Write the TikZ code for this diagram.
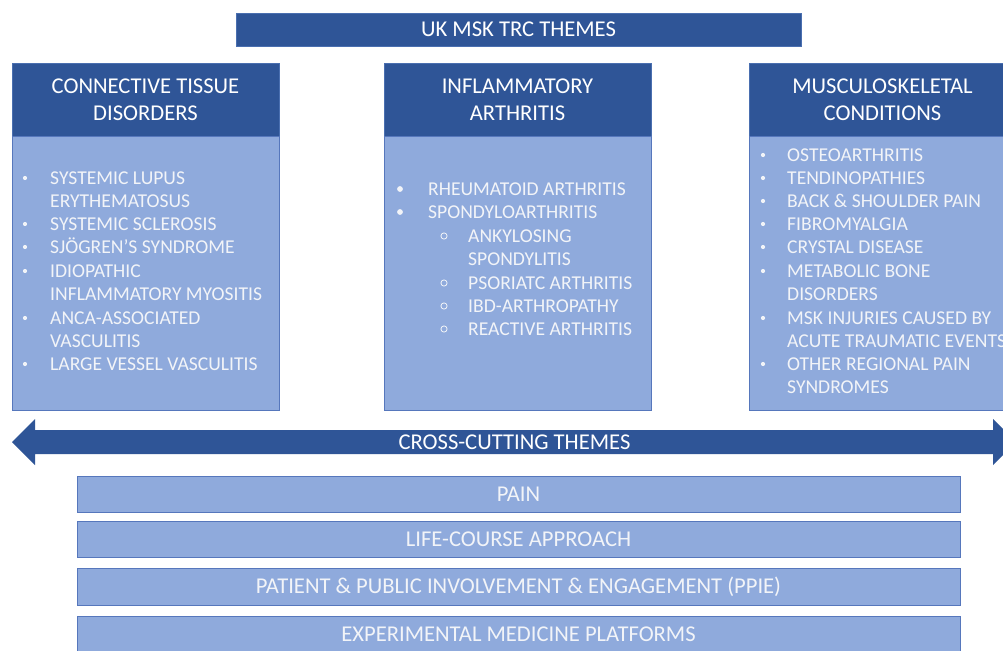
\documentclass[tikz,border=0pt]{standalone}
\usepackage{fontspec}
\setmainfont{Carlito}
\definecolor{dk}{HTML}{2F5597}
\definecolor{dkb}{HTML}{4A6FB0}
\definecolor{lt}{HTML}{8FAADC}
\definecolor{ltb}{HTML}{5677BC}
\definecolor{tx}{HTML}{F2F4F8}
\begin{document}
\begin{tikzpicture}[x=1pt,y=-1pt,
  dkbox/.style={fill=dk, draw=dkb, line width=0.8pt, inner sep=0pt},
  ltbox/.style={fill=lt, draw=ltb, line width=1pt, inner sep=0pt},
  hdr/.style={text=white, font=\fontsize{22.6}{27}\selectfont, align=center},
  bartext/.style={text=tx, font=\fontsize{22.6}{27}\selectfont},
  item/.style={anchor=west, inner sep=0pt, text=tx, font=\fontsize{19.6}{23}\selectfont, text height=12.4pt, text depth=0pt},
  sdot/.style={fill=tx},
  ring/.style={draw=tx, line width=0.8pt}]
\useasboundingbox (0,0) rectangle (1003,650);
\clip (0,0) rectangle (1003,650);
\fill[white] (0,0) rectangle (1003,650);

% title bar
\node[dkbox, hdr, minimum width=565, minimum height=33] (title) at (518.5,29.5) {UK MSK TRC THEMES};

% column headers
\node[dkbox, hdr, minimum width=267, minimum height=73] (h1) at (145.5,99.5) {CONNECTIVE TISSUE\\DISORDERS};
\node[dkbox, hdr, minimum width=267, minimum height=73] (h2) at (517.5,99.5) {INFLAMMATORY\\ARTHRITIS};
\node[dkbox, hdr, minimum width=267, minimum height=73] (h3) at (882.5,99.5) {MUSCULOSKELETAL\\CONDITIONS};

% column bodies
\node[ltbox, minimum width=267, minimum height=274] (b1) at (145.5,273) {};
\node[ltbox, minimum width=267, minimum height=274] (b2) at (517.5,273) {};
\node[ltbox, minimum width=267, minimum height=274] (b3) at (882.5,273) {};

% left list
\foreach \yy in {178,224,247,271,318,364} \fill[sdot] (25,\yy) circle (2.1);
\foreach \yy/\t [count=\i] in {178/SYSTEMIC LUPUS, 201/ERYTHEMATOSUS, 224/SYSTEMIC SCLEROSIS,
   247/SJÖGREN’S SYNDROME, 271/IDIOPATHIC, 294/INFLAMMATORY MYOSITIS,
   318/ANCA-ASSOCIATED, 341/VASCULITIS, 364/LARGE VESSEL VASCULITIS}
  \node[item] (la\i) at (50,\yy) {\t};

% middle list
\foreach \yy in {189,212} \fill[sdot] (400,\yy) circle (2.9);
\foreach \yy in {236,283,306,329} \draw[ring] (444,\yy) circle (3.1);
\foreach \yy/\t [count=\i] in {189/RHEUMATOID ARTHRITIS, 212/SPONDYLOARTHRITIS}
  \node[item] (ma\i) at (428,\yy) {\t};
\foreach \yy/\t [count=\i] in {236/ANKYLOSING, 259/SPONDYLITIS, 283/PSORIATC ARTHRITIS,
   306/IBD-ARTHROPATHY, 329/REACTIVE ARTHRITIS}
  \node[item] (mb\i) at (468,\yy) {\t};

% right list
\foreach \yy in {155,178,201,224,247,271,318,364} \fill[sdot] (763,\yy) circle (2.1);
\foreach \yy/\t [count=\i] in {155/OSTEOARTHRITIS, 178/TENDINOPATHIES, 201/BACK \& SHOULDER PAIN,
   224/FIBROMYALGIA, 247/CRYSTAL DISEASE, 271/METABOLIC BONE, 294/DISORDERS,
   318/MSK INJURIES CAUSED BY, 341/ACUTE TRAUMATIC EVENTS, 364/OTHER REGIONAL PAIN, 387/SYNDROMES}
  \node[item] (ra\i) at (787,\yy) {\t};

% cross-cutting arrow
\fill[dk] (12,442) -- (35,419) -- (35,430) -- (993,430) -- (993,419) -- (1016,442)
  -- (993,465) -- (993,454) -- (35,454) -- (35,465) -- cycle;
\node[bartext, text=white] (cross) at (514.5,442) {CROSS-CUTTING THEMES};

% bars
\node[ltbox, bartext, minimum width=883, minimum height=36] (p1) at (518.5,494) {PAIN};
\node[ltbox, bartext, minimum width=883, minimum height=36] (p2) at (518.5,539) {LIFE-COURSE APPROACH};
\node[ltbox, bartext, minimum width=883, minimum height=37] (p3) at (518.5,586.5) {PATIENT \& PUBLIC INVOLVEMENT \& ENGAGEMENT (PPIE)};
\node[ltbox, bartext, minimum width=883, minimum height=36] (p4) at (518.5,634) {EXPERIMENTAL MEDICINE PLATFORMS};
\end{tikzpicture}
\end{document}
